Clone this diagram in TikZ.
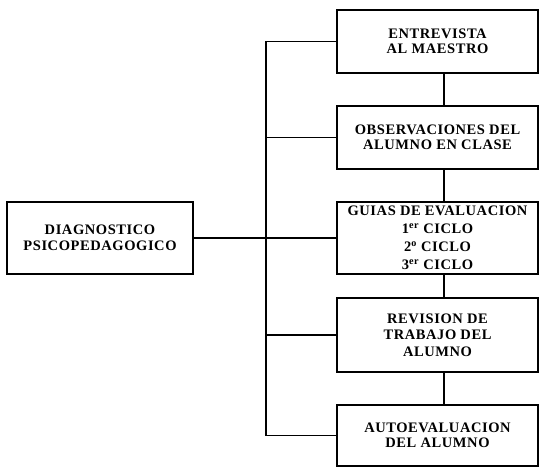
\documentclass[tikz,border=0pt]{standalone}
\usepackage{fontspec}
\setmainfont{Liberation Serif}
\newfontfamily\boxfont[LetterSpace=4]{Liberation Serif}
\begin{document}
\begin{tikzpicture}[x=1pt,y=-1pt,
  box/.style={draw, line width=1.5pt, rectangle, minimum width=201pt, align=center, inner sep=0pt, font=\boxfont\fontsize{14.5}{15.5}\selectfont\bfseries},
  link/.style={line width=1.5pt}]
\useasboundingbox (0,0) rectangle (540,468);
\node[box, minimum width=186pt, minimum height=72pt] (diag) at (100,238){DIAGNOSTICO\\PSICOPEDAGOGICO};
\node[box, minimum height=63pt] (maestro) at (437.5,41.5){ENTREVISTA\\AL MAESTRO};
\node[box, minimum height=63pt] (observ) at (437.5,137.5){OBSERVACIONES DEL\\ALUMNO EN CLASE};
\node[box, minimum height=72pt, font=\boxfont\fontsize{14.5}{18}\selectfont\bfseries] (guias) at (437.5,238){GUIAS DE EVALUACION\\1\textsuperscript{er} CICLO\\2\textsuperscript{o} CICLO\\3\textsuperscript{er} CICLO};
\node[box, minimum height=74pt, font=\boxfont\fontsize{14.5}{16.5}\selectfont\bfseries] (revision) at (437.5,335){REVISION DE\\TRABAJO DEL\\ALUMNO};
\node[box, minimum height=61pt] (autoeval) at (437.5,435.5){AUTOEVALUACION\\DEL ALUMNO};
\coordinate (trunk) at (266,0);
\coordinate (chain) at (444,0);
\draw[link](diag) -- (guias);
\draw[link](maestro.west) -- (maestro.west -| trunk) -- (autoeval.west -| trunk) -- (autoeval.west);
\draw[link](observ.west) -- (observ.west -| trunk);
\draw[link](revision.west) -- (revision.west -| trunk);
\draw[link](maestro.south -| chain) -- (observ.north -| chain);
\draw[link](observ.south -| chain) -- (guias.north -| chain);
\draw[link](guias.south -| chain) -- (revision.north -| chain);
\draw[link](revision.south -| chain) -- (autoeval.north -| chain);
\end{tikzpicture}
\end{document}
